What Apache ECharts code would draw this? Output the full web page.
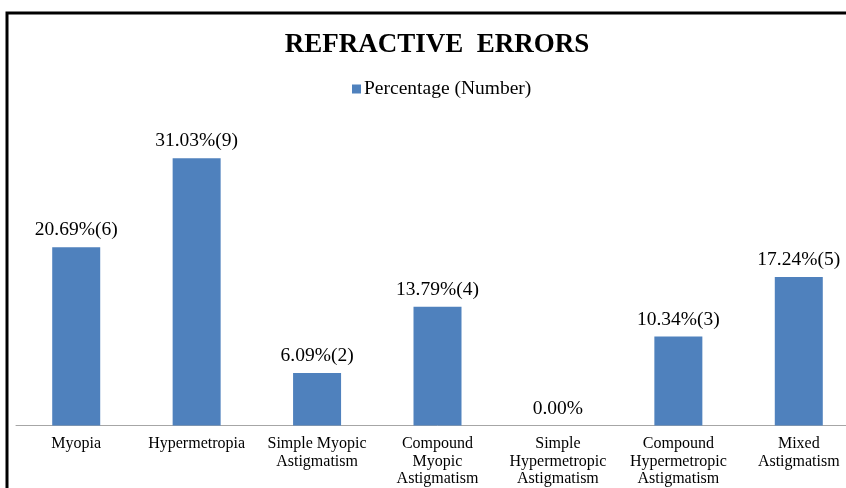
<!DOCTYPE html>
<html>
<head>
<meta charset="utf-8">
<script src="https://cdn.jsdelivr.net/npm/echarts@6/dist/echarts.min.js"></script>
<style>html,body{margin:0;padding:0;background:#fff;overflow:hidden;width:846px;height:488px}#c{width:860px;height:488px}</style>
</head>
<body>
<div id="c"></div>
<script>
var categories = ["Myopia","Hypermetropia","Simple Myopic Astigmatism","Compound Myopic Astigmatism","Simple Hypermetropic Astigmatism","Compound Hypermetropic Astigmatism","Mixed Astigmatism"];
var tickLabels = ["Myopia","Hypermetropia","Simple Myopic\nAstigmatism","Compound\nMyopic\nAstigmatism","Simple\nHypermetropic\nAstigmatism","Compound\nHypermetropic\nAstigmatism","Mixed\nAstigmatism"];
var percentages = [20.69, 31.03, 6.09, 13.79, 0, 10.34, 17.24];
var counts = [6, 9, 2, 4, 0, 3, 5];
var seriesName = "Percentage (Number)";

var chart = echarts.init(document.getElementById('c'));
var serif = '"Liberation Serif","Times New Roman",serif';
chart.setOption({
  animation: false,
  backgroundColor: '#fff',
  graphic: [{
    type: 'rect', silent: true, z: 100,
    shape: {x: 7, y: 13, width: 900, height: 600},
    style: {fill: 'none', stroke: '#000', lineWidth: 3}
  }],
  title: {
    text: 'REFRACTIVE  ERRORS',
    left: 432, textAlign: 'center', top: 27,
    textStyle: {fontFamily: serif, fontWeight: 'bold', fontSize: 27, color: '#000'}
  },
  legend: {
    data: [seriesName],
    left: 347, top: 74,
    itemWidth: 9, itemHeight: 9, itemGap: 4,
    icon: 'rect',
    textStyle: {fontFamily: serif, fontSize: 19.5, color: '#000', padding: [0,0,0,-2]}
  },
  grid: {left: 16, right: 1, top: 124, bottom: 62, containLabel: false},
  xAxis: {
    type: 'category',
    data: categories,
    axisLine: {lineStyle: {color: '#a6a6a6', width: 1}},
    axisTick: {show: false},
    axisLabel: {
      interval: 0, margin: 10,
      fontFamily: serif, fontSize: 16, lineHeight: 17.5, color: '#000',
      formatter: function (v, i) { return tickLabels[i]; }
    }
  },
  yAxis: {type: 'value', min: 0, max: 35, show: false, splitLine: {show: false}},
  series: [{
    name: seriesName,
    type: 'bar',
    data: percentages,
    barWidth: 48,
    itemStyle: {color: '#4F81BD'},
    label: {
      show: true, position: 'top', distance: 7,
      fontFamily: serif, fontSize: 19.5, color: '#000',
      formatter: function (p) {
        var c = counts[p.dataIndex];
        return p.value.toFixed(2) + '%' + (c ? '(' + c + ')' : '');
      }
    }
  }]
});
</script>
</body>
</html>
